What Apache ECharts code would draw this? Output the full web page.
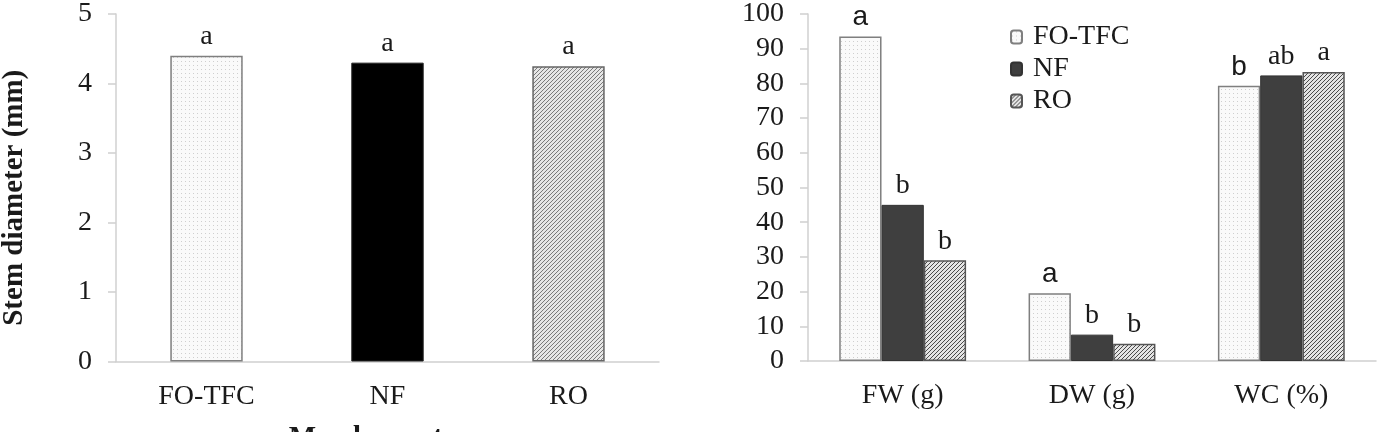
<!DOCTYPE html>
<html>
<head>
<meta charset="utf-8">
<script src="https://cdn.jsdelivr.net/npm/echarts@6/dist/echarts.min.js"></script>
<style>
html, body { margin: 0; padding: 0; background: #fff; }
#chart { width: 1393px; height: 432px; }
</style>
</head>
<body>
<div id="chart"></div>
<script>
// left panel: stem diameter per membrane
var membranes = ['FO-TFC', 'NF', 'RO'];
var stemDiameter = [4.4, 4.3, 4.25];
var stemLetters = ['a', 'a', 'a'];

// right panel: FW / DW / WC
var groups = ['FW (g)', 'DW (g)', 'WC (%)'];
var foTfc = [93.5, 19.5, 79.3];
var nf = [45, 7.6, 82.3];
var ro = [29, 5, 83.3];
var foTfcLetters = ['a', 'a', 'b'];
var nfLetters = ['b', 'b', 'ab'];
var roLetters = ['b', 'b', 'a'];

var leftTicks = [0, 1, 2, 3, 4, 5];
var rightTicks = [0, 10, 20, 30, 40, 50, 60, 70, 80, 90, 100];

var serif = '"Liberation Serif", "DejaVu Serif", serif';
var sans = '"Liberation Sans", Arial, sans-serif';
var axisGray = '#d0d0d0';

function dots() {
	var c = document.createElement('canvas');
	c.width = 4; c.height = 4;
	var g = c.getContext('2d');
	g.fillStyle = '#fafafa';
	g.fillRect(0, 0, 4, 4);
	g.fillStyle = '#cfcfcf';
	g.fillRect(1, 1, 1, 1);
	return { image: c, repeat: 'repeat' };
}

function hatch(bg, fg) {
	var c = document.createElement('canvas');
	c.width = 4; c.height = 4;
	var g = c.getContext('2d');
	g.fillStyle = bg;
	g.fillRect(0, 0, 4, 4);
	g.fillStyle = fg;
	for (var x = 0; x < 4; x++) {
		for (var y = 0; y < 4; y++) {
			if ((x + y) % 4 == 0) g.fillRect(x, y, 1, 1);
		}
	}
	return { image: c, repeat: 'repeat' };
}

var stemStyles = [
	{ color: dots(), borderColor: '#7f7f7f', borderWidth: 1.5 },
	{ color: '#000', borderColor: '#222', borderWidth: 1 },
	{ color: hatch('#e6e6e6', '#7a7a7a'), borderColor: '#666', borderWidth: 1.5 }
];

function withLetters(values, letters, font) {
	return values.map(function(v, i) {
		return { value: v, label: { formatter: letters[i], fontFamily: font } };
	});
}

var labelBase = {
	show: true,
	position: 'top',
	distance: 5,
	fontSize: 28,
	color: '#1a1a1a'
};

var xAxisBase = {
	type: 'category',
	axisLine: { lineStyle: { color: axisGray, width: 1.5 } },
	axisTick: { length: 8, lineStyle: { color: axisGray, width: 1.5 } },
	axisLabel: { fontFamily: serif, fontSize: 28, color: '#1a1a1a', margin: 21 }
};

var yAxisBase = {
	type: 'value',
	axisLine: { show: true, lineStyle: { color: axisGray, width: 1.5 } },
	axisTick: { show: true, length: 8, lineStyle: { color: axisGray, width: 1.5 } },
	splitLine: { show: false },
	axisLabel: { fontFamily: serif, fontSize: 28, color: '#1a1a1a', margin: 24 }
};

var chart = echarts.init(document.getElementById('chart'));
chart.setOption({
	animation: false,
	legend: {
		data: ['FO-TFC', 'NF', 'RO'],
		orient: 'vertical',
		left: 1010,
		top: 23,
		padding: 0,
		itemGap: 4,
		itemWidth: 11,
		itemHeight: 13,
		textStyle: { fontFamily: serif, fontSize: 28, color: '#1a1a1a', padding: [0, 0, 0, 6] }
	},
	grid: [
		{ left: 116, top: 14, width: 543, height: 347.5, outerBoundsMode: 'none' },
		{ left: 808, top: 14, width: 568, height: 347, outerBoundsMode: 'none' }
	],
	xAxis: [
		Object.assign({}, xAxisBase, {
			gridIndex: 0,
			data: membranes,
			name: 'Membrane type',
			nameLocation: 'middle',
			nameGap: 63,
			nameTextStyle: { fontFamily: serif, fontSize: 29, fontWeight: 'bold', color: '#1a1a1a' }
		}),
		Object.assign({}, xAxisBase, { gridIndex: 1, data: groups })
	],
	yAxis: [
		Object.assign({}, yAxisBase, {
			gridIndex: 0,
			min: leftTicks[0],
			max: leftTicks[leftTicks.length - 1],
			interval: 1,
			name: 'Stem diameter (mm)',
			nameLocation: 'middle',
			nameGap: 87,
			nameRotate: 90,
			nameTextStyle: { fontFamily: serif, fontSize: 29, fontWeight: 'bold', color: '#1a1a1a', padding: [0, 20, 0, 0] }
		}),
		Object.assign({}, yAxisBase, {
			gridIndex: 1,
			min: rightTicks[0],
			max: rightTicks[rightTicks.length - 1],
			interval: 10
		})
	],
	series: [
		{
			name: 'Stem diameter',
			type: 'bar',
			xAxisIndex: 0,
			yAxisIndex: 0,
			barCategoryGap: '60%',
			label: Object.assign({}, labelBase, { fontFamily: serif }),
			data: stemDiameter.map(function(v, i) {
				return { value: v, itemStyle: stemStyles[i], label: { formatter: stemLetters[i] } };
			})
		},
		{
			name: 'FO-TFC',
			type: 'bar',
			xAxisIndex: 1,
			yAxisIndex: 1,
			barGap: '0%',
			barCategoryGap: '33%',
			itemStyle: { color: dots(), borderColor: '#7f7f7f', borderWidth: 1.5 },
			label: labelBase,
			data: withLetters(foTfc, foTfcLetters, sans)
		},
		{
			name: 'NF',
			type: 'bar',
			xAxisIndex: 1,
			yAxisIndex: 1,
			barGap: '0%',
			barCategoryGap: '33%',
			itemStyle: { color: '#3f3f3f', borderColor: '#333', borderWidth: 1 },
			label: labelBase,
			data: withLetters(nf, nfLetters, serif)
		},
		{
			name: 'RO',
			type: 'bar',
			xAxisIndex: 1,
			yAxisIndex: 1,
			barGap: '0%',
			barCategoryGap: '33%',
			itemStyle: { color: hatch('#e4e4e4', '#4a4a4a'), borderColor: '#555', borderWidth: 1.5 },
			label: labelBase,
			data: withLetters(ro, roLetters, serif)
		}
	]
});
</script>
</body>
</html>
